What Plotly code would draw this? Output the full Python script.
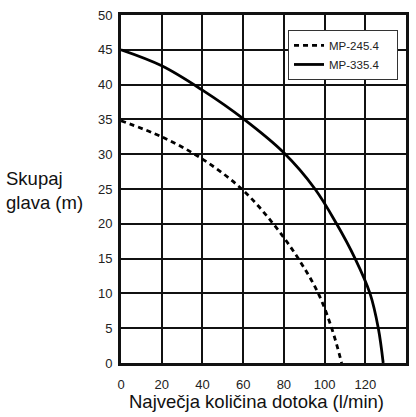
import plotly.graph_objects as go

# MP-245.4 (dashed)
q_245 = [0, 20, 40, 59.3, 74.8, 87.1, 96.9, 103.5, 108.4]
h_245 = [34.8, 32.5, 29.3, 25, 20, 15, 10, 5, 0]
# MP-335.4 (solid)
q_335 = [0, 20, 40, 60, 80, 95.3, 105.9, 115.0, 122.3, 126.4, 128.8]
h_335 = [45, 42.7, 39.2, 35.1, 30.2, 25, 20, 15, 10, 5, 0]

x_ticks = [0, 20, 40, 60, 80, 100, 120, 140]
y_ticks = [0, 5, 10, 15, 20, 25, 30, 35, 40, 45, 50]

NB = "\u00a0"
fig = go.Figure()
fig.add_trace(go.Scatter(x=q_245, y=h_245, mode="lines", name="MP-245.4" + NB * 4,
                         line=dict(color="black", width=2.8, dash="5px,4px", shape="spline")))
fig.add_trace(go.Scatter(x=q_335, y=h_335, mode="lines", name="MP-335.4" + NB * 4,
                         line=dict(color="black", width=2.8, shape="spline")))

fig.update_layout(
    width=416, height=417,
    margin=dict(l=121, r=10, t=15, b=54),
    paper_bgcolor="white", plot_bgcolor="white",
    font=dict(family="Liberation Sans, Arial, sans-serif", color="#222", size=13),
    showlegend=True,
    legend=dict(x=0.972, y=0.957, xanchor="right", yanchor="top",
                bgcolor="white", bordercolor="#333", borderwidth=1,
                font=dict(size=11.5, color="#222"), tracegroupgap=0, itemwidth=30),
    xaxis=dict(range=[0, 140], tickvals=x_ticks, ticktext=[str(v) for v in x_ticks],
               showgrid=True, gridcolor="#111", gridwidth=1.6, zeroline=False,
               showline=True, linecolor="#111", linewidth=3, mirror=True,
               ticks="", ticklabelstandoff=7, fixedrange=True, automargin=False),
    yaxis=dict(range=[0, 50], tickvals=y_ticks, ticktext=[str(v) for v in y_ticks],
               showgrid=True, gridcolor="#111", gridwidth=1.6, zeroline=False,
               showline=True, linecolor="#111", linewidth=3, mirror=True,
               ticks="", ticklabelstandoff=3, fixedrange=True, automargin=False),
    annotations=[
        dict(text="Skupaj<br>glava (m)", xref="paper", yref="paper", x=-0.41, y=0.495,
             xanchor="left", yanchor="middle", showarrow=False, align="left",
             font=dict(size=18.5, color="#111")),
        dict(text="Največja količina dotoka (l/min)", xref="paper", yref="paper",
             x=0.474, y=-0.111, xanchor="center", yanchor="middle", showarrow=False,
             font=dict(size=18.5, color="#111")),
    ],
)

fig.write_html(
    "out.html",
    config={"displayModeBar": False},
    post_script="document.body.style.margin='0';document.documentElement.style.overflow='hidden';",
)
